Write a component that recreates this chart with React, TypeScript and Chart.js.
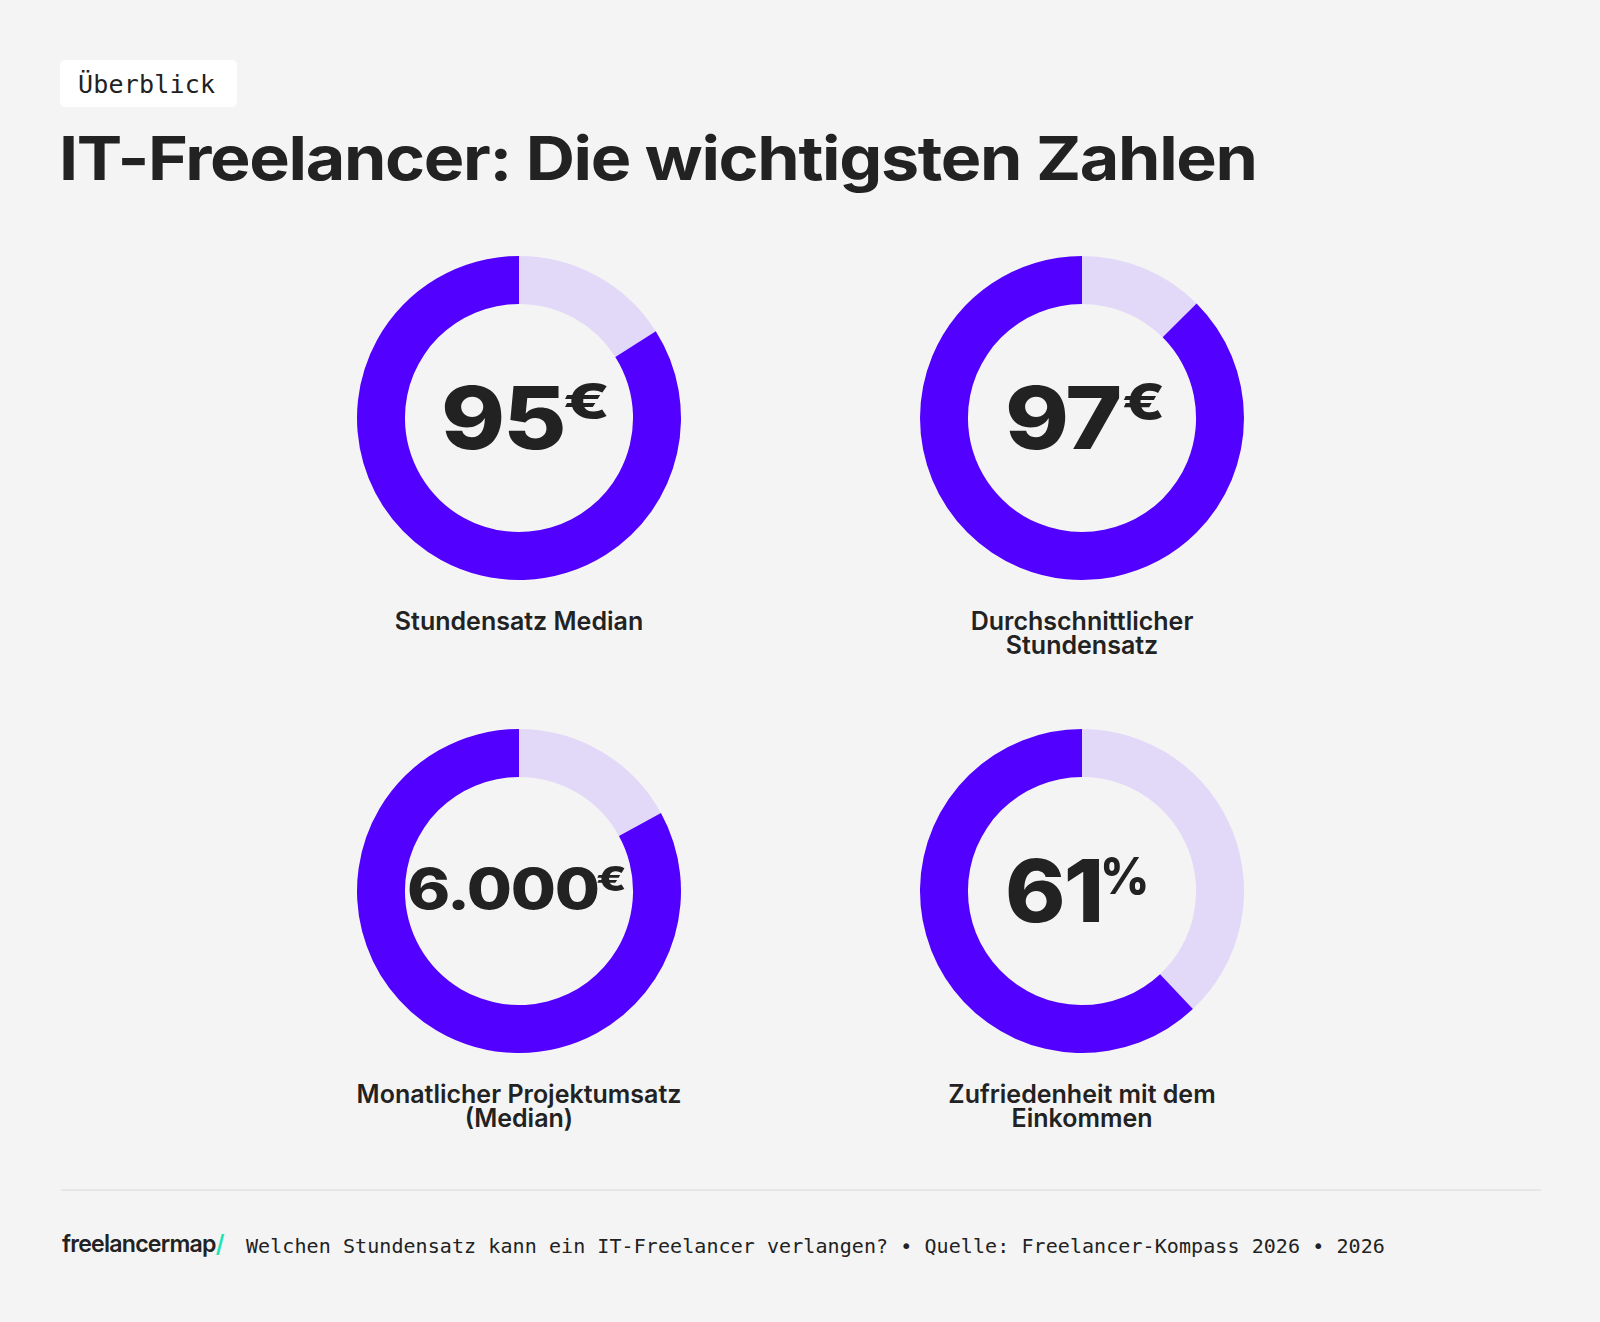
import React, { useEffect, useLayoutEffect, useRef, useState } from "react";
import { Chart, registerables } from "chart.js";

Chart.register(...registerables);

// ---------- data ----------
const metricValues = ["95", "97", "6.000", "61"];
const metricUnits = ["€", "€", "€", "%"];
const metricLabels = [
  ["Stundensatz Median"],
  ["Durchschnittlicher", "Stundensatz"],
  ["Monatlicher Projektumsatz", "(Median)"],
  ["Zufriedenheit mit dem", "Einkommen"],
];
const filledShare = [84, 87.5, 83, 62];
const remainderShare = [16, 12.5, 17, 38];
const segmentNames = ["Rest", "Wert"];

const titleText = "IT-Freelancer: Die wichtigsten Zahlen";
const badgeText = "Überblick";
const footerText =
  "Welchen Stundensatz kann ein IT-Freelancer verlangen? • Quelle: Freelancer-Kompass 2026 • 2026";

// ---------- styles ----------
const BG = "#f4f4f4";
const DARK = "#5200ff";
const LIGHT = "#e2d9f8";
const INK = "#222222";
const SANS = "Inter, 'Noto Sans', sans-serif";
const MONO = "'DejaVu Sans Mono', 'Liberation Mono', monospace";

// donut centres (layout)
const centers = [
  { cx: 519, cy: 418 },
  { cx: 1082, cy: 418 },
  { cx: 519, cy: 891 },
  { cx: 1082, cy: 891 },
];
// centre text layout relative to donut centre
const centerLayout = [
  { dl: -75, dw: 118, base: 32, cap: 63, ul: 45, uw: 44, ut: -34, uh: 36 },
  { dl: -74, dw: 110, base: 32, cap: 63, ul: 42, uw: 40, ut: -34, uh: 37 },
  { dl: -110, dw: 188, base: 19, cap: 41, ul: 78, uw: 29, ut: -24, uh: 25 },
  { dl: -74, dw: 92, base: 32, cap: 63, ul: 20, uw: 46, ut: -33, uh: 37 },
];

const CAP = 0.727; // Inter cap height
const BASE1 = 0.8633; // baseline offset with line-height 1 (Inter)

function Fit({
  width,
  style,
  children,
}: {
  width: number;
  style: React.CSSProperties;
  children: React.ReactNode;
}) {
  const ref = useRef<HTMLSpanElement>(null);
  const [s, setS] = useState(1);
  useLayoutEffect(() => {
    if (ref.current) {
      const w = ref.current.offsetWidth;
      if (w > 0) setS(width / w);
    }
  }, [width]);
  return (
    <span
      ref={ref}
      style={{
        position: "absolute",
        display: "inline-block",
        whiteSpace: "nowrap",
        transform: `scaleX(${s})`,
        transformOrigin: "left top",
        ...style,
      }}
    >
      {children}
    </span>
  );
}

function Donut({ idx }: { idx: number }) {
  const ref = useRef<HTMLCanvasElement>(null);
  const { cx, cy } = centers[idx];
  useEffect(() => {
    if (!ref.current) return;
    const chart = new Chart(ref.current, {
      type: "doughnut",
      data: {
        labels: segmentNames,
        datasets: [
          {
            data: [remainderShare[idx], filledShare[idx]],
            backgroundColor: [LIGHT, DARK],
            borderWidth: 0,
            hoverOffset: 0,
          },
        ],
      },
      options: {
        animation: false,
        responsive: false,
        maintainAspectRatio: false,
        radius: 162,
        cutout: "70.4%",
        events: [],
        layout: { padding: 0 },
        plugins: { legend: { display: false }, tooltip: { enabled: false } },
      } as any,
    });
    return () => chart.destroy();
  }, [idx]);
  return (
    <canvas
      ref={ref}
      width={340}
      height={340}
      style={{ position: "absolute", left: cx - 170, top: cy - 170, width: 340, height: 340 }}
    />
  );
}

function CenterValue({ idx }: { idx: number }) {
  const { cx, cy } = centers[idx];
  const L = centerLayout[idx];
  const F = L.cap / CAP;
  const U = L.uh / CAP;
  const digitsTop = cy + L.base - BASE1 * F;
  const unitTop = cy + L.ut - (BASE1 - CAP) * U;
  return (
    <>
      <Fit
        width={L.dw + 0.06 * F}
        style={{
          left: cx + L.dl - 0.03 * F,
          top: digitsTop,
          fontFamily: SANS,
          fontWeight: 800,
          fontSize: F,
          lineHeight: 1,
          color: INK,
          letterSpacing: -0.02 * F,
        }}
      >
        {metricValues[idx]}
      </Fit>
      <Fit
        width={L.uw + 0.06 * U}
        style={{
          left: cx + L.ul - 0.03 * U,
          top: unitTop,
          fontFamily: SANS,
          fontWeight: 800,
          fontSize: U,
          lineHeight: 1,
          color: INK,
        }}
      >
        {metricUnits[idx]}
      </Fit>
    </>
  );
}

function Label({ idx }: { idx: number }) {
  const { cx, cy } = centers[idx];
  const fs = 25;
  const lh = 23.5;
  const baseOff = (lh - 1.21 * fs) / 2 + 0.969 * fs;
  return (
    <div
      style={{
        position: "absolute",
        left: cx - 250,
        width: 500,
        top: cy + 213 - baseOff,
        textAlign: "center",
        fontFamily: SANS,
        fontWeight: 600,
        fontSize: fs,
        lineHeight: `${lh}px`,
        color: INK,
        letterSpacing: 0,
      }}
    >
      {metricLabels[idx].map((t, i) => (
        <div key={i}>{t}</div>
      ))}
    </div>
  );
}

export default function App() {
  return (
    <div
      style={{
        position: "absolute",
        left: 0,
        top: 0,
        width: 1600,
        height: 1322,
        background: BG,
        overflow: "hidden",
      }}
    >
      {/* badge */}
      <div
        style={{
          position: "absolute",
          left: 60,
          top: 60,
          width: 177,
          height: 47,
          background: "#ffffff",
          borderRadius: 5,
        }}
      />
      <div
        style={{
          position: "absolute",
          left: 78,
          top: 93.3 - 0.846 * 25,
          fontFamily: MONO,
          fontSize: 25,
          lineHeight: 1,
          color: INK,
          whiteSpace: "nowrap",
          letterSpacing: 0.2,
        }}
      >
        {badgeText}
      </div>

      {/* title */}
      <Fit
        width={1198}
        style={{
          left: 59,
          top: 181 - BASE1 * 61,
          fontFamily: SANS,
          fontWeight: 700,
          fontSize: 61,
          lineHeight: 1,
          color: INK,
          letterSpacing: -1.2,
        }}
      >
        {titleText}
      </Fit>

      {[0, 1, 2, 3].map((i) => (
        <React.Fragment key={i}>
          <Donut idx={i} />
          <CenterValue idx={i} />
          <Label idx={i} />
        </React.Fragment>
      ))}

      {/* footer */}
      <div
        style={{
          position: "absolute",
          left: 61,
          top: 1189,
          width: 1480,
          height: 2,
          background: "#e6e6e6",
        }}
      />
      <Fit
        width={162}
        style={{
          left: 62,
          top: 1252.7 - BASE1 * 24,
          fontFamily: SANS,
          fontWeight: 600,
          fontSize: 24,
          lineHeight: 1,
          color: INK,
          letterSpacing: -0.8,
        }}
      >
        freelancermap<span style={{ color: "#19e6b4" }}>/</span>
      </Fit>
      <div
        style={{
          position: "absolute",
          left: 246,
          top: 1252.7 - 0.846 * 20,
          fontFamily: MONO,
          fontSize: 20,
          lineHeight: 1,
          color: INK,
          whiteSpace: "nowrap",
          letterSpacing: 0.075,
        }}
      >
        {footerText}
      </div>
    </div>
  );
}
